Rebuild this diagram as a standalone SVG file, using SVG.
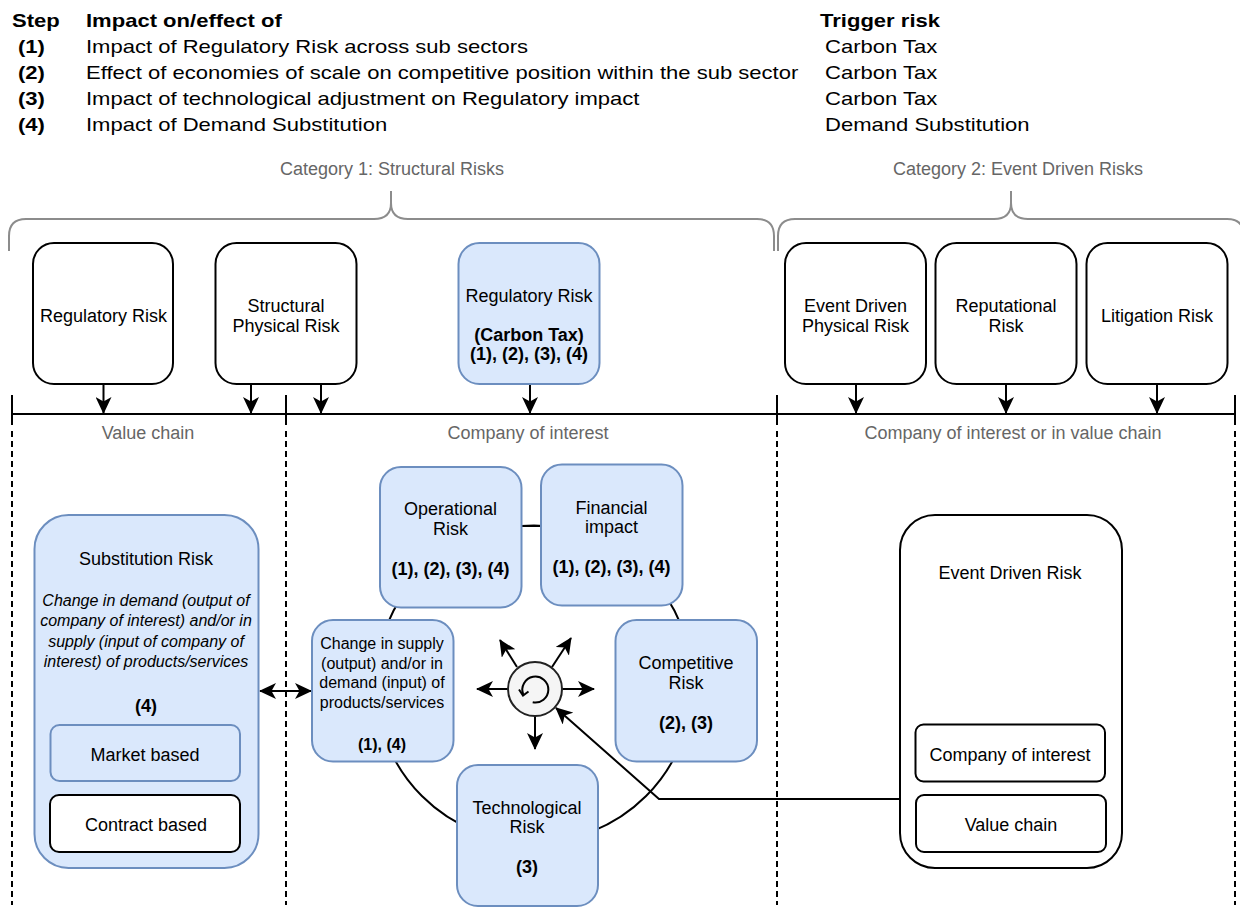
<svg xmlns="http://www.w3.org/2000/svg" width="1240" height="909" viewBox="0 0 1240 909">
<style>
text{font-family:"Liberation Sans",Arial,Helvetica,sans-serif;fill:#000}
.t18{font-size:18px}
.t16{font-size:16px}
.b{font-weight:bold}
.it{font-style:italic}
.gray{fill:#666666;font-size:18px}
.c{text-anchor:middle}
.wbox{fill:#ffffff;stroke:#000000;stroke-width:2}
.bbox{fill:#dae8fc;stroke:#6c8ebf;stroke-width:2}
.ln{fill:none;stroke:#000000;stroke-width:2}
.dash{fill:none;stroke:#000000;stroke-width:2;stroke-dasharray:6 4}
.brace{fill:none;stroke:#8c8c8c;stroke-width:2}
</style>
<defs>
<marker id="ah" viewBox="0 0 17 16" refX="16" refY="8" markerWidth="17" markerHeight="16" orient="auto-start-reverse" markerUnits="userSpaceOnUse">
<path d="M0,0 L17,8 L0,16 L4.5,8 Z" fill="#000"/>
</marker>
</defs>

<g id="legend" transform="matrix(1.225 0 0 1 0 0)">
<text class="t18 b" x="9.8" y="27">Step</text>
<text class="t18 b" x="70.2" y="27">Impact on/effect of</text>
<text class="t18 b" x="669.4" y="27">Trigger risk</text>
<text class="t18 b" x="14.7" y="53">(1)</text>
<text class="t18 b" x="14.7" y="79">(2)</text>
<text class="t18 b" x="14.7" y="105">(3)</text>
<text class="t18 b" x="14.7" y="131">(4)</text>
<text class="t18" x="70.2" y="53">Impact of Regulatory Risk across sub sectors</text>
<text class="t18" x="70.2" y="79">Effect of economies of scale on competitive position within the sub sector</text>
<text class="t18" x="70.2" y="105">Impact of technological adjustment on Regulatory impact</text>
<text class="t18" x="70.2" y="131">Impact of Demand Substitution</text>
<text class="t18" x="673.5" y="53">Carbon Tax</text>
<text class="t18" x="673.5" y="79">Carbon Tax</text>
<text class="t18" x="673.5" y="105">Carbon Tax</text>
<text class="t18" x="673.5" y="131">Demand Substitution</text>
</g>

<g id="categories">
<text class="gray c" x="392" y="175">Category 1: Structural Risks</text>
<text class="gray c" x="1018" y="175">Category 2: Event Driven Risks</text>
<path class="brace" d="M9,251 L9,236 Q9,219 26,219 L374,219 Q391,219 391,203 L391,191 M391,191 L391,203 Q391,219 408,219 L757,219 Q774,219 774,236 L774,251"/>
<path class="brace" d="M778,251 L778,236 Q778,219 795,219 L994,219 Q1011,219 1011,203 L1011,191 M1011,191 L1011,203 Q1011,219 1028,219 L1227,219 Q1244,219 1244,236 L1244,251"/>
</g>

<g id="axis">
<line class="ln" x1="12" y1="414" x2="1235" y2="414"/>
<line class="ln" x1="12" y1="395" x2="12" y2="425"/>
<line class="ln" x1="286" y1="395" x2="286" y2="425"/>
<line class="ln" x1="777" y1="395" x2="777" y2="425"/>
<line class="ln" x1="1235" y1="395" x2="1235" y2="425"/>
<line class="dash" x1="12" y1="431" x2="12" y2="905"/>
<line class="dash" x1="286" y1="431" x2="286" y2="905"/>
<line class="dash" x1="777" y1="431" x2="777" y2="905"/>
<line class="dash" x1="1235" y1="431" x2="1235" y2="905"/>
<text class="gray c" x="148" y="439">Value chain</text>
<text class="gray c" x="528" y="439">Company of interest</text>
<text class="gray c" x="1013" y="439">Company of interest or in value chain</text>
</g>

<g id="cycle-ring">
<circle cx="534" cy="684" r="158.5" fill="none" stroke="#000" stroke-width="2"/>
</g>

<g id="connectors">
<line class="ln" x1="103.5" y1="384" x2="103.5" y2="413" marker-end="url(#ah)"/>
<line class="ln" x1="251" y1="384" x2="251" y2="413" marker-end="url(#ah)"/>
<line class="ln" x1="321" y1="384" x2="321" y2="413" marker-end="url(#ah)"/>
<line class="ln" x1="530" y1="384" x2="530" y2="413" marker-end="url(#ah)"/>
<line class="ln" x1="856" y1="384" x2="856" y2="413" marker-end="url(#ah)"/>
<line class="ln" x1="1006" y1="384" x2="1006" y2="413" marker-end="url(#ah)"/>
<line class="ln" x1="1157" y1="384" x2="1157" y2="413" marker-end="url(#ah)"/>
<line class="ln" x1="260" y1="691" x2="311" y2="691" marker-start="url(#ah)" marker-end="url(#ah)"/>
<line class="ln" x1="521" y1="526" x2="541" y2="526"/>
<line class="ln" x1="508" y1="689" x2="477" y2="689" marker-end="url(#ah)"/>
<line class="ln" x1="562" y1="689" x2="594" y2="689" marker-end="url(#ah)"/>
<line class="ln" x1="535" y1="716" x2="535" y2="749" marker-end="url(#ah)"/>
<line class="ln" x1="517" y1="667" x2="500" y2="640" marker-end="url(#ah)"/>
<line class="ln" x1="552" y1="667" x2="571" y2="638" marker-end="url(#ah)"/>
<path class="ln" d="M900,799 L659,799 L556,708" marker-end="url(#ah)"/>
</g>

<g id="node-regulatory-vc">
<rect class="wbox" x="33" y="243" width="140" height="141" rx="21" ry="21"/>
<text class="t18 c" x="103.5" y="322">Regulatory Risk</text>
</g>
<g id="node-structural-physical">
<rect class="wbox" x="215.5" y="243" width="141" height="141" rx="21" ry="21"/>
<text class="t18 c" x="286" y="312">Structural</text>
<text class="t18 c" x="286" y="332">Physical Risk</text>
</g>
<g id="node-regulatory-carbon">
<rect class="bbox" x="458.5" y="243" width="141" height="141" rx="21" ry="21"/>
<text class="t18 c" x="529" y="302">Regulatory Risk</text>
<text class="t18 c b" x="529" y="341">(Carbon Tax)</text>
<text class="t18 c b" x="529" y="360">(1), (2), (3), (4)</text>
</g>
<g id="node-event-physical">
<rect class="wbox" x="785" y="243" width="141" height="141" rx="21" ry="21"/>
<text class="t18 c" x="855.5" y="312">Event Driven</text>
<text class="t18 c" x="855.5" y="332">Physical Risk</text>
</g>
<g id="node-reputational">
<rect class="wbox" x="935.5" y="243" width="141" height="141" rx="21" ry="21"/>
<text class="t18 c" x="1006" y="312">Reputational</text>
<text class="t18 c" x="1006" y="332">Risk</text>
</g>
<g id="node-litigation">
<rect class="wbox" x="1086.5" y="243" width="141" height="141" rx="21" ry="21"/>
<text class="t18 c" x="1157" y="322">Litigation Risk</text>
</g>

<g id="node-substitution">
<rect class="bbox" x="34.5" y="515" width="224" height="353" rx="34" ry="34"/>
<text class="t18 c" x="146" y="564.5">Substitution Risk</text>
<text class="t16 c it" x="146" y="606">Change in demand (output of</text>
<text class="t16 c it" x="146" y="626">company of interest) and/or in</text>
<text class="t16 c it" x="146" y="646.5">supply (input of company of</text>
<text class="t16 c it" x="146" y="666.5">interest) of products/services</text>
<text class="t18 c b" x="146" y="712">(4)</text>
</g>
<g id="node-market-based">
<rect class="bbox" x="50.5" y="725" width="189.5" height="56" rx="9" ry="9"/>
<text class="t18 c" x="145" y="760.5">Market based</text>
</g>
<g id="node-contract-based">
<rect class="wbox" x="50" y="795" width="190" height="57" rx="9" ry="9"/>
<text class="t18 c" x="146" y="831">Contract based</text>
</g>

<g id="node-operational">
<rect class="bbox" x="380" y="467" width="141.5" height="140.5" rx="21" ry="21"/>
<text class="t18 c" x="450.5" y="515">Operational</text>
<text class="t18 c" x="450.5" y="535">Risk</text>
<text class="t18 c b" x="450.5" y="575">(1), (2), (3), (4)</text>
</g>
<g id="node-financial">
<rect class="bbox" x="541" y="464.5" width="141.5" height="141" rx="21" ry="21"/>
<text class="t18 c" x="611.5" y="513.5">Financial</text>
<text class="t18 c" x="611.5" y="533">impact</text>
<text class="t18 c b" x="611.5" y="572.5">(1), (2), (3), (4)</text>
</g>
<g id="node-change-supply">
<rect class="bbox" x="312" y="620" width="141.5" height="141.5" rx="21" ry="21"/>
<text class="t16 c" x="382" y="649">Change in supply</text>
<text class="t16 c" x="382" y="668.5">(output) and/or in</text>
<text class="t16 c" x="382" y="688">demand (input) of</text>
<text class="t16 c" x="382" y="707.5">products/services</text>
<text class="t16 c b" x="382" y="749.5">(1), (4)</text>
</g>
<g id="node-competitive">
<rect class="bbox" x="615.5" y="620" width="141.5" height="141.5" rx="21" ry="21"/>
<text class="t18 c" x="686" y="668.5">Competitive</text>
<text class="t18 c" x="686" y="688.5">Risk</text>
<text class="t18 c b" x="686" y="728.5">(2), (3)</text>
</g>
<g id="node-technological">
<rect class="bbox" x="457" y="765" width="141" height="141" rx="21" ry="21"/>
<text class="t18 c" x="527" y="813.5">Technological</text>
<text class="t18 c" x="527" y="833">Risk</text>
<text class="t18 c b" x="527" y="873">(3)</text>
</g>

<g id="node-cycle-icon">
<circle cx="535" cy="689" r="27" fill="#f5f5f5" stroke="#222" stroke-width="2"/>
<path d="M532.7,702.3 A13,13 0 1 0 523.2,694.2" fill="none" stroke="#000" stroke-width="2"/>
<path d="M519,689.5 L523,695.5 L528.5,691.5" fill="none" stroke="#000" stroke-width="2"/>
</g>

<g id="node-event-driven">
<rect class="wbox" x="900" y="515" width="222" height="353" rx="35" ry="35"/>
<text class="t18 c" x="1010" y="578.5">Event Driven Risk</text>
</g>
<g id="node-company-interest">
<rect class="wbox" x="915.5" y="724.5" width="189.5" height="57" rx="8" ry="8"/>
<text class="t18 c" x="1010" y="760.5">Company of interest</text>
</g>
<g id="node-value-chain">
<rect class="wbox" x="916" y="795" width="190" height="57" rx="8" ry="8"/>
<text class="t18 c" x="1011" y="831">Value chain</text>
</g>
</svg>
